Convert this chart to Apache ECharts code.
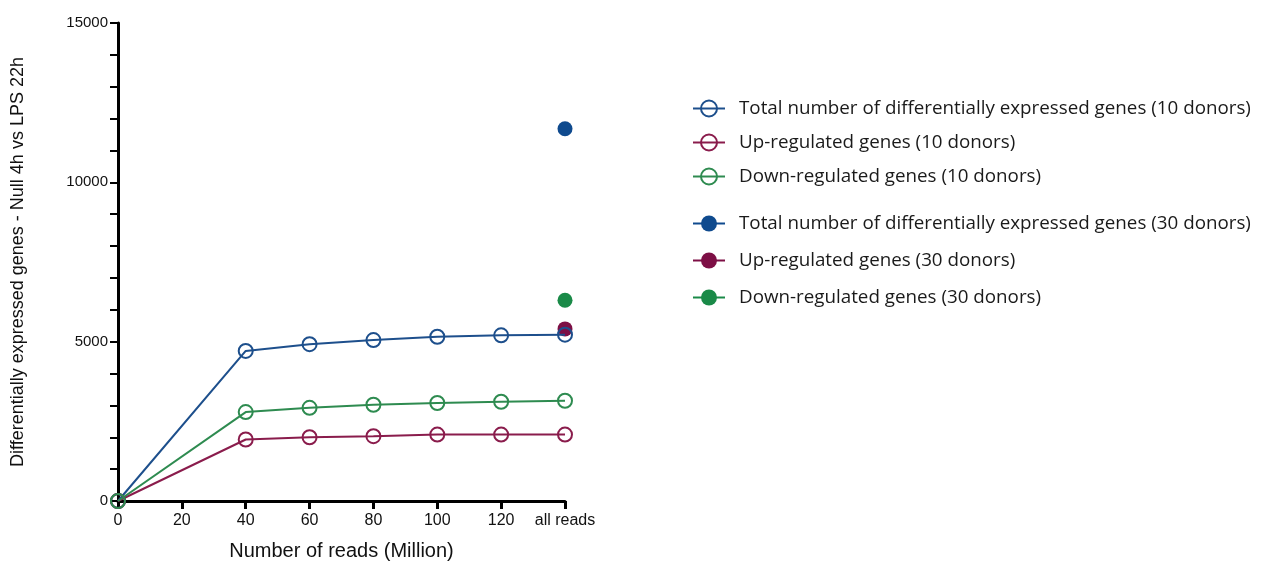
<!DOCTYPE html>
<html>
<head>
<meta charset="utf-8">
<script src="https://cdn.jsdelivr.net/npm/echarts@6/dist/echarts.min.js"></script>
<style>
html,body{margin:0;padding:0;background:#fff;}
#c{width:1267px;height:566px;}
</style>
</head>
<body>
<div id="c"></div>
<script>
// x positions: 140 = "all reads"
const reads = [0, 20, 40, 60, 80, 100, 120, 140];
const xTickLabels = ['0', '20', '40', '60', '80', '100', '120', 'all reads'];
const xs10 = [0, 40, 60, 80, 100, 120, 140];
const total10 = [0, 4710, 4920, 5050, 5155, 5200, 5220];
const up10 = [0, 1930, 2000, 2035, 2085, 2085, 2085];
const down10 = [0, 2790, 2925, 3020, 3075, 3115, 3145];
const xs30 = [140];
const total30 = [11680];
const up30 = [5400];
const down30 = [6300];

const names = [
  'Total number of differentially expressed genes (10 donors)',
  'Up-regulated genes (10 donors)',
  'Down-regulated genes (10 donors)',
  'Total number of differentially expressed genes (30 donors)',
  'Up-regulated genes (30 donors)',
  'Down-regulated genes (30 donors)'
];
const colors = ['#1d4f8c', '#8a1c4c', '#2e8b50', '#0f4a8e', '#7d0f45', '#1a8a48'];

function pts(xs, ys) { return xs.map((x, i) => [x, ys[i]]); }

const chart = echarts.init(document.getElementById('c'));
const axisFont = {fontFamily: 'Liberation Sans, Arial', color: '#111'};

const lineSeries = (name, data, color, hollow) => ({
  name: name,
  type: 'line',
  data: data,
  symbol: 'circle',
  symbolSize: hollow ? 14 : 15,
  showAllSymbol: true,
  lineStyle: {width: 2, color: color},
  itemStyle: {color: hollow ? 'rgba(255,255,255,0)' : color, borderColor: color, borderWidth: hollow ? 2 : 0},
  emphasis: {disabled: true},
  clip: false,
  z: hollow ? 3 : 2
});

chart.setOption({
  animation: false,
  backgroundColor: '#fff',
  grid: {left: 118, right: 702, top: 23, bottom: 61},
  xAxis: {
    type: 'value', min: 0, max: 140, interval: 20,
    name: 'Number of reads (Million)', nameLocation: 'middle', nameGap: 40,
    nameTextStyle: Object.assign({fontSize: 20}, axisFont),
    axisLine: {show: true, onZero: false, lineStyle: {color: '#000', width: 3}},
    axisTick: {show: true, length: 8, lineStyle: {color: '#000', width: 3}},
    axisLabel: Object.assign({fontSize: 16, margin: 12, formatter: v => xTickLabels[reads.indexOf(v)]}, axisFont),
    splitLine: {show: false}
  },
  yAxis: {
    type: 'value', min: 0, max: 15000, interval: 1000,
    name: 'Differentially expressed genes - Null 4h vs LPS 22h', nameLocation: 'middle', nameGap: 91,
    nameTextStyle: Object.assign({fontSize: 18}, axisFont),
    axisLine: {show: true, lineStyle: {color: '#000', width: 3}},
    axisTick: {show: true, length: 8, lineStyle: {color: '#000', width: 2}},
    axisLabel: Object.assign({fontSize: 15, margin: 10, formatter: v => (v % 5000 === 0 ? String(v) : '')}, axisFont),
    splitLine: {show: false}
  },
  legend: [
    {
      data: names.slice(0, 3), orient: 'vertical', left: 692, top: 99, padding: 0,
      itemWidth: 32, itemHeight: 20, itemGap: 15,
      textStyle: {fontFamily: 'Open Sans', fontSize: 18.8, color: '#1a1a1a', padding: [0, 0, 0, 9]},
      selectedMode: false
    },
    {
      data: names.slice(3), orient: 'vertical', left: 692, top: 214, padding: 0,
      itemWidth: 32, itemHeight: 20, itemGap: 18,
      textStyle: {fontFamily: 'Open Sans', fontSize: 18.8, color: '#1a1a1a', padding: [0, 0, 0, 9]},
      selectedMode: false
    }
  ],
  series: [
    lineSeries(names[0], pts(xs10, total10), colors[0], true),
    lineSeries(names[1], pts(xs10, up10), colors[1], true),
    lineSeries(names[2], pts(xs10, down10), colors[2], true),
    lineSeries(names[3], pts(xs30, total30), colors[3], false),
    lineSeries(names[4], pts(xs30, up30), colors[4], false),
    lineSeries(names[5], pts(xs30, down30), colors[5], false)
  ]
});
</script>
</body>
</html>
